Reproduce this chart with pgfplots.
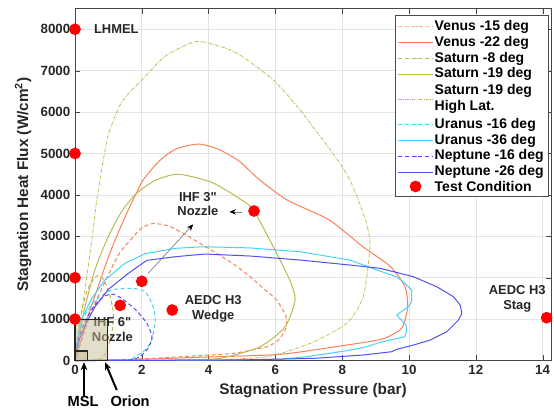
\documentclass[border=0pt]{standalone}
\usepackage{pgfplots}
\pgfplotsset{compat=1.18}
\usepackage{fontspec}
\setmainfont{Liberation Sans}
\usetikzlibrary{arrows.meta}
\definecolor{venus}{RGB}{250,128,90}
\definecolor{saturn}{RGB}{190,185,80}
\definecolor{uranus}{RGB}{70,210,250}
\definecolor{neptune}{RGB}{80,80,240}
\definecolor{boxfill}{RGB}{200,190,150}
\begin{document}
\begin{tikzpicture}
\begin{axis}[
  scale only axis, width=357pt, height=264pt,
  xmin=0, xmax=14.25, ymin=0, ymax=8500,
  xtick={0,2,...,14}, ytick={0,1000,...,8000},
  grid=major, major grid style={gray!22, line width=0.5pt},
  axis line style={draw=gray!55!black, line width=0.6pt},
  tick style={gray!55!black},
  major tick length=4pt,
  clip=false,
  /pgf/number format/assume math mode=true,
  scaled y ticks=false,
  yticklabel style={/pgf/number format/1000 sep={}},
  ticklabel style={font=\bfseries\fontsize{10}{12}\selectfont, text=black!85},
  xlabel={Stagnation Pressure (bar)},
  ylabel={Stagnation Heat Flux (W/cm\textsuperscript{2})},
  label style={font=\bfseries\fontsize{11.5}{13}\selectfont, text=black!85},
  legend style={at={(rel axis cs:0.994,0.981)}, anchor=north east, draw=gray!60!black,
     font=\bfseries\fontsize{10.5}{12}\selectfont, row sep=-0.4pt, inner ysep=2.5pt, inner xsep=2pt,
     nodes={inner sep=1.2pt, text depth={}},
     cells={anchor=west}},
  legend image code/.code={\draw[mark repeat=2,mark phase=2,#1] plot coordinates {(0cm,0cm) (0.45cm,0cm) (0.9cm,0cm)};},
  every axis plot/.append style={line width=0.75pt},
]
% Venus -15
\addplot[venus, dashed, dash pattern=on 3pt off 2pt, smooth, tension=0.4] coordinates {
(0,0) (0.2,500) (0.5,1200) (0.9,1900) (1.3,2550) (1.7,2950) (2.0,3200) (2.34,3310) (2.8,3250) (3.24,3072) (3.7,2850) (4.24,2589) (4.8,2300) (5.24,2024) (5.7,1700) (6.04,1461) (6.3,1100) (6.34,950) (6.29,737) (6.1,500) (5.74,333) (4.74,174) (3.74,120) (2.5,60) (1.2,20) (0,0)};
\addlegendentry{Venus -15 deg}
% Venus -22
\addplot[venus, smooth, tension=0.4] coordinates {
(0,0) (0.15,400) (0.4,1100) (0.7,1800) (1.0,2500) (1.3,3100) (1.6,3650) (1.83,4030) (2.04,4360) (2.5,4800) (3.0,5100) (3.69,5228) (4.3,5100) (4.94,4800) (5.5,4380) (6.35,3876) (7.6,3400) (8.6,2760) (9.45,2265) (9.88,1780) (9.96,1300) (9.85,900) (9.73,737) (9.2,520) (8.13,374) (6.14,150) (3.74,80) (2,30) (0.5,5) (0,0)};
\addlegendentry{Venus -22 deg}
% Saturn -8
\addplot[saturn, dashed, dash pattern=on 3pt off 2pt, smooth, tension=0.4] coordinates {
(0,0) (0.08,600) (0.2,1200) (0.35,1650) (0.5,1900) (0.7,2060) (0.9,1900) (1.05,1541) (1.15,1140) (1.1,657) (0.95,254) (0.8,53) (0.4,5) (0,0)};
\addlegendentry{Saturn -8 deg}
% Saturn -19
\addplot[saturn, smooth, tension=0.4] coordinates {
(0,0) (0.1,500) (0.3,1300) (0.6,2200) (1.0,3000) (1.4,3600) (1.83,4030) (2.4,4350) (3.09,4500) (4.1,4300) (4.99,3876) (5.36,3611) (6.09,2507) (6.45,1900) (6.59,1461) (6.29,816) (5.54,333) (4.34,53) (3,15) (1.5,3) (0,0)};
\addlegendentry{Saturn -19 deg}
% Saturn -19 High Lat
\addplot[saturn, line width=0.6pt, dash pattern=on 2.5pt off 1pt on 0.6pt off 1pt, smooth, tension=0.4] coordinates {
(0,0) (0.05,400) (0.2,1140) (0.4,2300) (0.55,3200) (0.65,3876) (0.75,4359) (0.85,4850) (1.0,5450) (1.3,6100) (1.6,6450) (2.0,6774) (2.7,7350) (3.59,7699) (4.3,7600) (4.94,7378) (5.94,6774) (6.74,6050) (7.4,5350) (7.93,4762) (8.23,4359) (8.48,3876) (8.73,3313) (8.83,2748) (8.63,1541) (8.13,898) (7.04,415) (5.74,92) (4,15) (2,3) (0,0)};
\addlegendentry{\begin{tabular}{@{}l@{}}Saturn -19 deg\\High Lat.\end{tabular}}
% Uranus -16
\addplot[uranus, dashed, dash pattern=on 3pt off 2pt, smooth, tension=0.4] coordinates {
(0,0) (0.1,600) (0.3,1100) (0.6,1450) (1.1,1703) (1.7,1744) (2.1,1662) (2.34,1300) (2.4,978) (2.3,495) (2.1,254) (1.8,92) (1.6,20) (0.8,5) (0,0)};
\addlegendentry{Uranus -16 deg}
% Uranus -36
\addplot[uranus] coordinates {
(0,0) (0.05,400) (0.2,1000) (0.5,1500) (0.9,1950) (1.5,2350) (2.1,2580) (3.0,2710) (3.84,2748) (5.24,2720) (6.74,2627) (8.23,2427) (9.13,2160) (9.63,2020) (9.88,1864) (10.08,1703) (10.08,1420) (9.98,1300) (9.63,1099) (9.91,857) (9.93,737) (9.88,575) (9.13,440) (8.73,333) (8.13,237) (6.94,92) (6.14,29) (4,10) (2,5) (0,0)};
\addlegendentry{Uranus -36 deg}
% Neptune -16
\addplot[neptune, dashed, dash pattern=on 3pt off 2pt, smooth, tension=0.4] coordinates {
(0,0) (0.1,500) (0.3,950) (0.6,1350) (0.9,1560) (1.15,1600) (1.4,1500) (1.65,1340) (1.85,1200) (2.15,900) (2.3,600) (2.25,400) (2.15,254) (1.95,100) (1.7,20) (1.0,5) (0,0)};
\addlegendentry{Neptune -16 deg}
% Neptune -26
\addplot[neptune] coordinates {
(0,0) (0.05,250) (0.15,550) (0.3,850) (0.6,1300) (1.0,1720) (1.6,2106) (2.15,2420) (3.0,2507) (3.89,2572) (5.24,2524) (6.74,2427) (8.23,2306) (9.13,2227) (9.73,2106) (10.13,2024) (10.83,1782) (11.33,1541) (11.53,1340) (11.58,1140) (11.48,978) (11.13,696) (10.63,495) (10.13,374) (9.63,270) (9.48,213) (8.63,133) (7.14,53) (5,15) (2,3) (0,0)};
\addlegendentry{Neptune -26 deg}
% annotations under boxes
\node[font=\bfseries\fontsize{9.7}{11}\selectfont, align=center, text=black!85] at (axis cs:1.12,745) {IHF 6\textquotedbl\\Nozzle};
\fill[boxfill, fill opacity=0.5] (axis cs:0,0) rectangle (axis cs:0.98,995);
\draw[black!85, line width=0.8pt] (axis cs:0,0) rectangle (axis cs:0.98,995);
\fill[boxfill, fill opacity=0.6] (axis cs:0,0) rectangle (axis cs:0.37,230);
\draw[black!85, line width=0.8pt] (axis cs:0,0) rectangle (axis cs:0.37,230);
% Test conditions
\addplot[only marks, mark=*, mark size=4pt, red, mark options={fill=red, draw=red}] coordinates {
(0,8000) (0,5000) (0,2000) (0,1000) (1.35,1333) (2.0,1913) (2.91,1220) (5.36,3611) (14.12,1034)};
\addlegendentry{Test Condition}
% text labels
\node[anchor=west, font=\bfseries\fontsize{9.7}{11}\selectfont, text=black!85] at (axis cs:0.43,8000) {LHMEL};
\node[font=\bfseries\fontsize{9.7}{11}\selectfont, align=center, text=black!85] at (axis cs:3.68,3780) {IHF 3\textquotedbl\\Nozzle};
\node[font=\bfseries\fontsize{9.7}{11}\selectfont, align=center, text=black!85] at (axis cs:4.14,1243) {AEDC H3\\Wedge};
\node[font=\bfseries\fontsize{9.7}{11}\selectfont, align=center, text=black!85] at (axis cs:13.24,1486) {AEDC H3\\Stag};
\draw[gray, line width=0.5pt, -{Stealth[length=5pt,width=4pt,black]}] (axis cs:4.99,3590) -- (axis cs:4.62,3590);
\draw[gray, line width=0.5pt, -{Stealth[length=5pt,width=4pt,black]}] (axis cs:2.19,2106) -- (axis cs:3.54,3290);
\draw[black, line width=1.5pt, -{Stealth[length=6pt,width=5pt]}] (axis cs:0.27,-870) -- (axis cs:0.27,-40);
\draw[black, line width=1.5pt, -{Stealth[length=6pt,width=5pt]}] (axis cs:1.25,-712) -- (axis cs:0.9,-40);
\node[font=\bfseries\fontsize{11}{13}\selectfont] at (axis cs:0.24,-1000) {MSL};
\node[font=\bfseries\fontsize{11}{13}\selectfont] at (axis cs:1.65,-980) {Orion};
\end{axis}
\pgfresetboundingbox
\useasboundingbox (-56.25pt,-36pt) rectangle (359.25pt,270.4pt);
\end{tikzpicture}
\end{document}
